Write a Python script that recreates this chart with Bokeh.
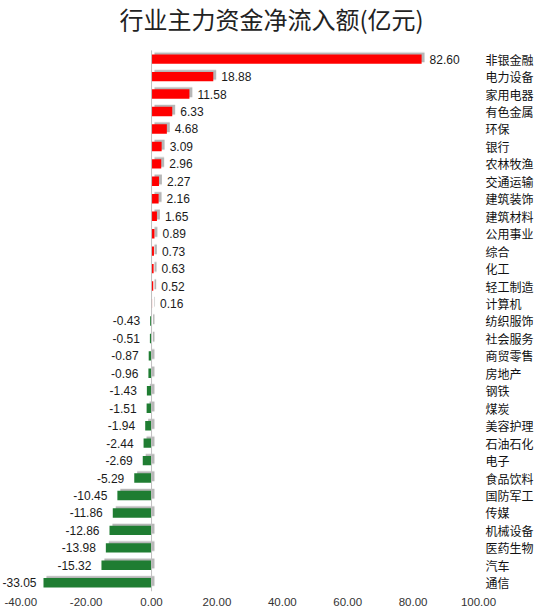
from bokeh.plotting import figure
from bokeh.models import ColumnDataSource, Range1d, FixedTicker, NumeralTickFormatter, Label
from bokeh.core.properties import value
from bokeh.embed import file_html
from bokeh.resources import INLINE

title_text = "行业主力资金净流入额(亿元)"
industries = ["非银金融", "电力设备", "家用电器", "有色金属", "环保", "银行", "农林牧渔", "交通运输",
              "建筑装饰", "建筑材料", "公用事业", "综合", "化工", "轻工制造", "计算机",
              "纺织服饰", "社会服务", "商贸零售", "房地产", "钢铁", "煤炭", "美容护理", "石油石化",
              "电子", "食品饮料", "国防军工", "传媒", "机械设备", "医药生物", "汽车", "通信"]
net_flow = [82.60, 18.88, 11.58, 6.33, 4.68, 3.09, 2.96, 2.27, 2.16, 1.65, 0.89, 0.73, 0.63, 0.52, 0.16,
            -0.43, -0.51, -0.87, -0.96, -1.43, -1.51, -1.94, -2.44, -2.69, -5.29, -10.45, -11.86,
            -12.86, -13.98, -15.32, -33.05]
x_ticks = [-40, -20, 0, 20, 40, 60, 80, 100]

RED = "#FF0000"
GREEN = "#1F7D32"
n = len(industries)
pos_idx = [n - 1 - i for i in range(n)]  # top row first
shift_x = 0.9   # shadow shift (x units)
shift_y = 0.1   # shadow shift (rows)
X0, X1 = -46.2, 100

# label offsets: outside the bar end, pulled in when it would leave the plot
xoff = []
for v in net_flow:
    if v >= 0:
        xoff.append(8)
    else:
        room = (v - X0) * 3.27 - 36
        xoff.append(-max(4, min(10, room)))

src = ColumnDataSource(dict(
    y=pos_idx,
    ys=[v + shift_y for v in pos_idx],
    val=net_flow,
    left=[min(0, v) for v in net_flow],
    right=[max(0, v) for v in net_flow],
    sleft=[min(0, v) + shift_x for v in net_flow],
    sright=[max(0, v) + shift_x for v in net_flow],
    color=[RED if v >= 0 else GREEN for v in net_flow],
    label=["%.2f" % v for v in net_flow],
    align=["left" if v >= 0 else "right" for v in net_flow],
    xoff=xoff,
))

FW, FH = 478, 591
p = figure(x_range=Range1d(X0, X1), y_range=Range1d(-0.5, n - 1 + 3.36),
           frame_width=FW, frame_height=FH,
           y_axis_location="right",
           output_backend="svg", toolbar_location=None,
           min_border_left=0, min_border_right=0, min_border_top=0, min_border_bottom=0)

p.outline_line_color = None
p.xgrid.grid_line_color = None
p.ygrid.grid_line_color = None
p.background_fill_color = "white"
p.border_fill_color = "white"

# shadows
p.hbar(y="ys", left="sleft", right="sright", height=0.64,
       source=src, fill_color="#000000", fill_alpha=0.08, line_color=None)
p.hbar(y="ys", left="sleft", right="sright", height=0.54,
       source=src, fill_color="#000000", fill_alpha=0.22, line_color=None)
# bars
p.hbar(y="y", left="left", right="right", height=0.54, source=src,
       fill_color="color", line_color=None)

# zero (category) axis line
p.segment(x0=[0], y0=[-0.5], x1=[0], y1=[n - 0.5], line_color="#BFBFBF", line_width=1)

p.text(x="val", y="y", text="label", source=src, text_align="align", x_offset="xoff",
       text_baseline="middle", text_font=value("Liberation Sans"), text_font_size="12px",
       text_color="#1a1a1a")

title = Label(x=271, y=FH - 18, x_units="screen", y_units="screen", text=title_text,
              text_align="center", text_baseline="middle", text_font="Noto Sans CJK SC",
              text_font_size="24px", text_color="#222222")
p.add_layout(title)

# y axis (category names, on right)
ya = p.yaxis[0]
ya.ticker = FixedTicker(ticks=pos_idx)
ya.major_label_overrides = {i: name for i, name in zip(pos_idx, industries)}
ya.axis_line_color = None
ya.major_tick_line_color = None
ya.minor_tick_line_color = None
ya.major_tick_in = 0
ya.major_tick_out = 0
ya.major_label_standoff = 7
ya.major_label_text_font = "Noto Sans CJK SC"
ya.major_label_text_font_size = "12px"
ya.major_label_text_color = "#111111"

xa = p.xaxis[0]
xa.ticker = FixedTicker(ticks=x_ticks)
xa.formatter = NumeralTickFormatter(format="0.00")
xa.axis_line_color = None
xa.major_tick_line_color = None
xa.minor_tick_line_color = None
xa.major_tick_in = 0
xa.major_tick_out = 0
xa.major_label_standoff = 6
xa.major_label_text_font = "Liberation Sans"
xa.major_label_text_font_size = "11.5px"
xa.major_label_text_color = "#333333"

open("out.html", "w").write(file_html(p, INLINE))
